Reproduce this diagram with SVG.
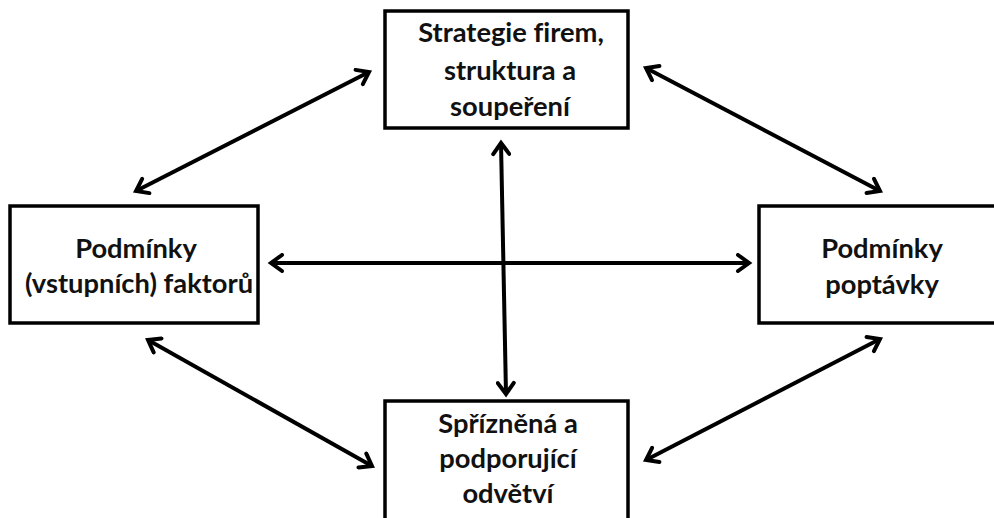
<svg xmlns="http://www.w3.org/2000/svg" width="994" height="518" viewBox="0 0 994 518">
<style>
.box{fill:#fff;stroke:#000;stroke-width:3.5}
.lbl{font-family:Lato,"Open Sans","DejaVu Sans",sans-serif;font-weight:bold;font-size:27.3px;fill:#111;text-anchor:middle;font-variant-ligatures:none}
.con{stroke:#000;stroke-width:4;fill:none;marker-start:url(#ah);marker-end:url(#ah)}
</style>
<defs>
<marker id="ah" markerUnits="userSpaceOnUse" markerWidth="20" markerHeight="20" viewBox="-14 -10 20 20" refX="0" refY="0" orient="auto-start-reverse">
<path d="M-11,-8 L0,0 L-11,8" fill="none" stroke="#000" stroke-width="4" stroke-linecap="round" stroke-linejoin="miter"/>
</marker>
</defs>
<rect width="994" height="518" fill="#fff"/>
<g id="connectors">
<line class="con" x1="136" y1="191" x2="369" y2="72"/>
<line class="con" x1="646" y1="68" x2="880" y2="191"/>
<line class="con" x1="148" y1="340" x2="372" y2="466"/>
<line class="con" x1="646" y1="460" x2="880" y2="339"/>
<line class="con" x1="271" y1="263" x2="749" y2="263"/>
<line class="con" x1="501" y1="143" x2="506" y2="394"/>
</g>
<g id="node-top">
<rect class="box" x="385" y="11" width="243" height="117"/>
<text class="lbl" x="511" y="42">Strategie firem,</text>
<text class="lbl" x="510" y="80">struktura a</text>
<text class="lbl" x="510" y="116">soupeření</text>
</g>
<g id="node-left">
<rect class="box" x="10" y="206" width="248" height="117"/>
<text class="lbl" x="136" y="258">Podmínky</text>
<text class="lbl" x="139" y="293">(vstupních) faktorů</text>
</g>
<g id="node-right">
<rect class="box" x="759" y="206" width="245" height="117"/>
<text class="lbl" x="882" y="258">Podmínky</text>
<text class="lbl" x="882" y="294">poptávky</text>
</g>
<g id="node-bottom">
<rect class="box" x="385" y="401" width="243" height="130"/>
<text class="lbl" x="508" y="433">Spřízněná a</text>
<text class="lbl" x="508" y="468">podporující</text>
<text class="lbl" x="508" y="503">odvětví</text>
</g>
</svg>
